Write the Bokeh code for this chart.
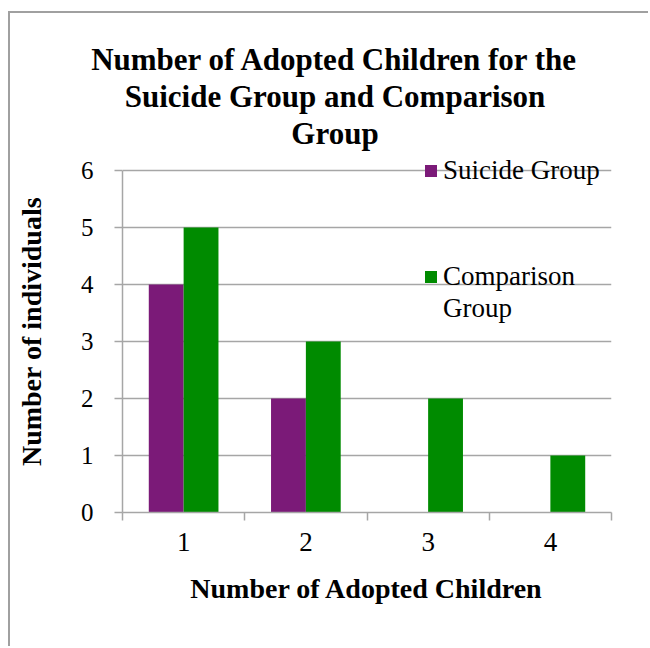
from bokeh.plotting import figure
from bokeh.models import Range1d, FixedTicker, Legend, LegendItem, ColumnDataSource, Title
from bokeh.transform import dodge
from bokeh.embed import file_html
from bokeh.resources import INLINE

# ---- data ----
adopted_children = [1, 2, 3, 4]
suicide_group = [4, 2, 0, 0]
comparison_group = [5, 3, 2, 1]
y_ticks = [0, 1, 2, 3, 4, 5, 6]
x_boundaries = [0.5, 1.5, 2.5, 3.5, 4.5]

title_lines = ["Number of Adopted Children for the",
               "Suicide Group and Comparison",
               "Group"]
x_label = "Number of Adopted Children"
y_label = "Number of individuals"
series_names = ["Suicide Group", "Comparison", "Group"]

PURPLE = "#7b1a78"
GREEN = "#008b00"
GRID = "#a6a6a6"
SERIF = "Liberation Serif"

src = ColumnDataSource(dict(x=adopted_children, s=suicide_group, c=comparison_group))

p = figure(width=640, height=635,
           x_range=Range1d(0.5, 4.5), y_range=Range1d(0, 6.35),
           output_backend="svg", toolbar_location=None,
           min_border_left=112, min_border_right=39,
           min_border_top=137, min_border_bottom=136)

# title: stacked lines, nearest to the plot first
for i, line in enumerate(reversed(title_lines)):
    p.add_layout(Title(text=line, align="center", text_font=SERIF,
                       text_font_size="31px", text_font_style="bold",
                       text_line_height=0.9,
                       padding=dict(left=0, right=64, top=0, bottom=0),
                       standoff=0,
                       text_color="#000000"), "above")

bw = 0.285
r1 = p.vbar(x=dodge("x", -bw / 2, range=p.x_range), top="s", width=bw, bottom=0,
            source=src, fill_color=PURPLE, line_color=None)
r2 = p.vbar(x=dodge("x", bw / 2, range=p.x_range), top="c", width=bw, bottom=0,
            source=src, fill_color=GREEN, line_color=None)
# invisible twin used only for the wrapped second legend line
r3 = p.vbar(x=dodge("x", bw / 2, range=p.x_range), top="c", width=bw, bottom=0,
            source=src, fill_alpha=0, line_alpha=0)

# axes
p.yaxis.ticker = FixedTicker(ticks=y_ticks)
p.yaxis.bounds = (0, 6)
p.xaxis.ticker = FixedTicker(ticks=adopted_children, minor_ticks=x_boundaries)
for ax in (p.xaxis[0], p.yaxis[0]):
    ax.axis_line_color = GRID
    ax.axis_line_width = 1.5
    ax.major_label_text_font = SERIF
    ax.major_label_text_color = "#000000"
    ax.axis_label_text_font = SERIF
    ax.axis_label_text_font_style = "bold"
    ax.axis_label_text_font_size = "28px"
    ax.axis_label_text_color = "#000000"

p.xaxis.axis_label = x_label
p.xaxis.major_tick_line_color = None
p.xaxis.major_tick_out = 0
p.xaxis.major_tick_in = 0
p.xaxis.minor_tick_line_color = GRID
p.xaxis.minor_tick_line_width = 1.5
p.xaxis.minor_tick_out = 8
p.xaxis.minor_tick_in = 0
p.xaxis.major_label_text_font_size = "27px"
p.xaxis.major_label_standoff = 12
p.xaxis.axis_label_standoff = 19

p.yaxis.axis_label = y_label
p.yaxis.major_tick_line_color = GRID
p.yaxis.major_tick_line_width = 1.5
p.yaxis.major_tick_out = 8
p.yaxis.major_tick_in = 0
p.yaxis.minor_tick_line_color = None
p.yaxis.major_label_text_font_size = "25px"
p.yaxis.major_label_standoff = 21
p.yaxis.axis_label_standoff = 31

p.xgrid.grid_line_color = None
p.ygrid.grid_line_color = GRID
p.ygrid.grid_line_width = 1.5
p.ygrid.ticker = FixedTicker(ticks=y_ticks)
p.outline_line_color = None
p.background_fill_color = "white"
p.border_fill_color = "white"

common = dict(glyph_width=15, glyph_height=15, label_standoff=5,
              padding=0, margin=0, border_line_color=None,
              background_fill_alpha=0, label_text_font=SERIF,
              label_text_font_size="27px", label_text_color="#000000",
              label_height=32)
legend_a = Legend(items=[LegendItem(label=series_names[0], renderers=[r1])],
                  location=(301, 326), **common)
legend_b = Legend(items=[LegendItem(label=series_names[1], renderers=[r2]),
                         LegendItem(label=series_names[2], renderers=[r3])],
                  location=(301, 188), spacing=0, **common)
p.add_layout(legend_a)
p.add_layout(legend_b)

p.styles = {"margin-left": "8px", "margin-top": "11px",
            "border-left": "2px solid #a0a0a0", "border-top": "2px solid #a0a0a0"}

open("out.html", "w").write(file_html(p, INLINE))
